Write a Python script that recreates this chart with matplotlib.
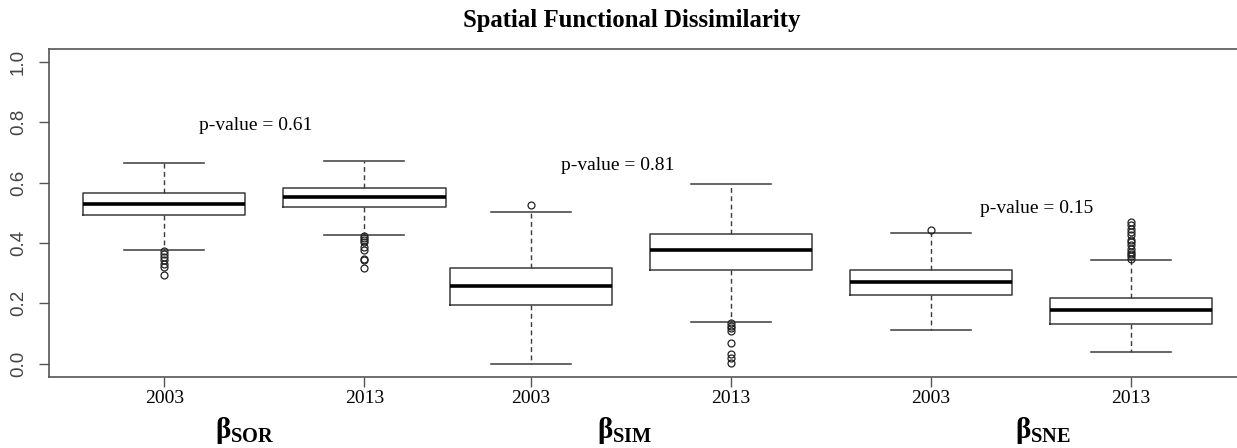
import matplotlib.pyplot as plt

# box statistics (2003 / 2013 for each index)
groups = ['SOR', 'SOR', 'SIM', 'SIM', 'SNE', 'SNE']
years = ['2003', '2013', '2003', '2013', '2003', '2013']
whislo = [0.378, 0.427, 0.000, 0.137, 0.112, 0.037]
q1 = [0.492, 0.519, 0.193, 0.311, 0.226, 0.132]
med = [0.530, 0.553, 0.256, 0.375, 0.270, 0.178]
q3 = [0.564, 0.582, 0.318, 0.429, 0.311, 0.218]
whishi = [0.664, 0.670, 0.503, 0.594, 0.434, 0.342]
fliers = [
    [0.373, 0.364, 0.353, 0.342, 0.331, 0.320, 0.295],
    [0.422, 0.415, 0.409, 0.402, 0.386, 0.378, 0.348, 0.342, 0.318],
    [0.525],
    [0.134, 0.126, 0.117, 0.107, 0.067, 0.030, 0.020, 0.001],
    [0.444],
    [0.469, 0.458, 0.447, 0.436, 0.425, 0.409, 0.403, 0.392,
     0.381, 0.370, 0.362, 0.355, 0.348],
]
pvalues = ['0.61', '0.81', '0.15']
pvalue_y = [0.79, 0.658, 0.515]
index_names = ['SOR', 'SIM', 'SNE']

# layout
positions = [0, 1, 1.83, 2.83, 3.83, 4.83]
pvalue_x = [0.456, 2.266, 4.356]
label_x = [0.40, 2.30, 4.39]

plt.rcParams['mathtext.fontset'] = 'custom'
plt.rcParams['mathtext.rm'] = 'Liberation Serif:bold'
plt.rcParams['mathtext.it'] = 'Liberation Serif:bold'
plt.rcParams['mathtext.bf'] = 'Liberation Serif:bold'

fig = plt.figure(figsize=(12.37, 4.48), dpi=100)
ax = fig.add_axes([49 / 1237, 1 - 376.5 / 448, 1 - 49 / 1237 + 0.003, (376.5 - 49) / 448])

stats = []
for i in range(len(years)):
    stats.append({'whislo': whislo[i], 'q1': q1[i], 'med': med[i], 'q3': q3[i],
                  'whishi': whishi[i], 'fliers': fliers[i], 'label': years[i]})

line_col = '#3a3a3a'
ax.bxp(stats, positions=positions, widths=0.81, capwidths=0.4,
       boxprops=dict(color=line_col, linewidth=1.1),
       medianprops=dict(color='black', linewidth=2.6),
       whiskerprops=dict(color=line_col, linewidth=1.0, linestyle=(0, (3.5, 2.5))),
       capprops=dict(color=line_col, linewidth=1.1),
       flierprops=dict(marker='o', markersize=5, markerfacecolor='none',
                       markeredgecolor='#222222', markeredgewidth=0.9))

ax.set_xlim(-0.576, 5.378)
ax.set_ylim(-0.043, 1.043)
ax.set_yticks([0.0, 0.2, 0.4, 0.6, 0.8, 1.0])
ax.set_yticklabels(['0.0', '0.2', '0.4', '0.6', '0.8', '1.0'], rotation=90,
                   va='center', family='Liberation Sans', fontsize=13.5, color='#444444')
ax.set_xticks(positions)
ax.set_xticklabels(years, family='Liberation Serif', fontsize=14)
ax.tick_params(axis='both', length=7, width=1.0, color='#555555')
ax.tick_params(axis='x', pad=3)
ax.tick_params(axis='y', pad=9)

for side in ['top', 'bottom', 'left']:
    ax.spines[side].set_color('#555555')
    ax.spines[side].set_linewidth(1.2)
ax.spines['right'].set_visible(False)

for i in range(len(pvalues)):
    ax.text(pvalue_x[i], pvalue_y[i], 'p-value = ' + pvalues[i], ha='center', va='center',
            family='Liberation Serif', fontsize=14)

for i in range(len(index_names)):
    ax.text(label_x[i], -0.165, r'$\beta_{\mathrm{' + index_names[i] + '}}$',
            ha='center', va='center', fontsize=21,
            transform=ax.get_xaxis_transform())

fig.text(632 / 1237, 1 - 21 / 448, 'Spatial Functional Dissimilarity', ha='center', va='center',
         family='Liberation Serif', fontweight='bold', fontsize=17.8)

fig.savefig('out.png', dpi=100)
